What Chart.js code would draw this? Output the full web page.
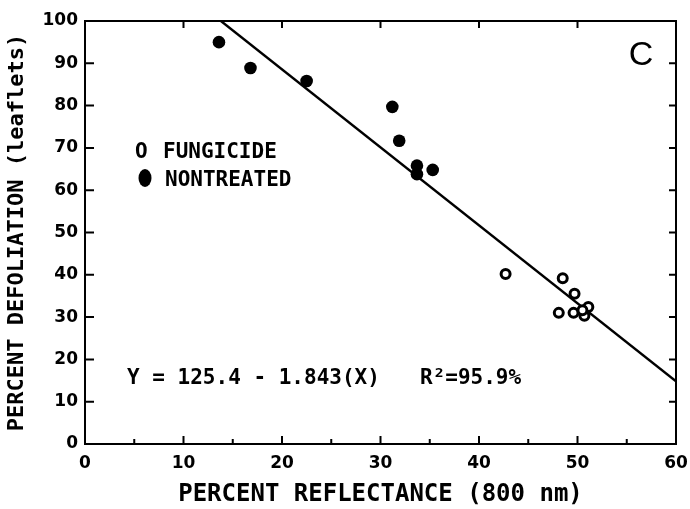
<!DOCTYPE html>
<html>
<head>
<meta charset="utf-8">
<script src="https://cdn.jsdelivr.net/npm/chart.js@4"></script>
<style>
    html, body { margin: 0; padding: 0; background: #fff; }
    #wrap { width: 690px; height: 509px; }
</style>
</head>
<body>
<div id="wrap"><canvas id="chart" width="690" height="509"></canvas></div>
<script>
// --- Data ---
const fungicideX = [42.7, 48.5, 49.7, 48.1, 49.6, 50.7, 51.1, 50.5];
const fungicideY = [40.2, 39.2, 35.5, 31.0, 31.0, 30.3, 32.4, 31.6];

const nontreatedX = [13.6, 16.8, 22.5, 31.2, 31.9, 33.7, 33.7, 35.3];
const nontreatedY = [95.0, 88.9, 85.8, 79.7, 71.7, 65.8, 63.8, 64.8];

// regression line end points (Y = 125.4 - 1.843X)
const fitX = [13.8, 60];
const fitY = [100, 14.8];

const xTicks = [0, 10, 20, 30, 40, 50, 60];
const xMinorTicks = [5, 15, 25, 35, 45, 55];
const yTicks = [0, 10, 20, 30, 40, 50, 60, 70, 80, 90, 100];

const xTitle = 'PERCENT REFLECTANCE (800 nm)';
const yTitle = 'PERCENT DEFOLIATION (leaflets)';
const legendLabels = ['FUNGICIDE', 'NONTREATED'];
const equationText = 'Y = 125.4 - 1.843(X)';
const r2Text = 'R\u00B2=95.9%';
const panelLetter = 'C';

const MONO = "'DejaVu Sans Mono', monospace";

function toPoints(xs, ys) {
    return xs.map((x, i) => ({ x: x, y: ys[i] }));
}

// Frame, inward ticks and in-plot text
const framePlugin = {
    id: 'frame',
    afterDatasetsDraw(chart) {
        const ctx = chart.ctx;
        const a = chart.chartArea;
        const sx = chart.scales.x;
        const sy = chart.scales.y;

        ctx.save();
        ctx.strokeStyle = '#000';
        ctx.lineWidth = 2;
        ctx.strokeRect(a.left, a.top, a.right - a.left, a.bottom - a.top);

        ctx.beginPath();
        xTicks.forEach(v => {
            const px = sx.getPixelForValue(v);
            ctx.moveTo(px, a.bottom); ctx.lineTo(px, a.bottom - 8);
            ctx.moveTo(px, a.top); ctx.lineTo(px, a.top + 7);
        });
        xMinorTicks.forEach(v => {
            const px = sx.getPixelForValue(v);
            ctx.moveTo(px, a.bottom); ctx.lineTo(px, a.bottom - 5);
        });
        yTicks.forEach(v => {
            const py = sy.getPixelForValue(v);
            ctx.moveTo(a.left, py); ctx.lineTo(a.left + 9, py);
            ctx.moveTo(a.right, py); ctx.lineTo(a.right - 7, py);
        });
        ctx.stroke();

        // legend
        ctx.fillStyle = '#000';
        ctx.font = 'bold 21px ' + MONO;
        ctx.textBaseline = 'alphabetic';
        ctx.textAlign = 'left';
        ctx.fillText('O', 135, 158);
        ctx.fillText(legendLabels[0], 163, 158);
        ctx.beginPath();
        ctx.ellipse(145, 178, 6.5, 9, 0, 0, Math.PI * 2);
        ctx.fill();
        ctx.fillText(legendLabels[1], 165, 186);

        // equation
        ctx.font = 'bold 21px ' + MONO;
        ctx.fillText(equationText, 127, 384);
        ctx.fillText(r2Text, 420, 384);

        // panel letter
        ctx.font = "34px 'Liberation Sans', Arial, sans-serif";
        ctx.textAlign = 'center';
        ctx.fillText(panelLetter, 641, 65);
        ctx.restore();
    }
};

new Chart(document.getElementById('chart').getContext('2d'), {
    type: 'scatter',
    data: {
        datasets: [
            {
                label: 'FUNGICIDE',
                data: toPoints(fungicideX, fungicideY),
                pointRadius: 4.5,
                pointBorderWidth: 3,
                pointBackgroundColor: '#fff',
                pointBorderColor: '#000'
            },
            {
                label: 'NONTREATED',
                data: toPoints(nontreatedX, nontreatedY),
                pointRadius: 6.3,
                pointBorderWidth: 0,
                pointBackgroundColor: '#000',
                pointBorderColor: '#000'
            },
            {
                type: 'line',
                label: 'fit',
                data: toPoints(fitX, fitY),
                borderColor: '#000',
                borderWidth: 2.4,
                pointRadius: 0,
                showLine: true,
                fill: false
            }
        ]
    },
    options: {
        responsive: false,
        animation: false,
        layout: { padding: { top: 21, right: 14, left: 0, bottom: 0 } },
        plugins: {
            legend: { display: false },
            tooltip: { enabled: false }
        },
        scales: {
            x: {
                type: 'linear',
                min: 0,
                max: 60,
                afterBuildTicks: s => { s.ticks = xTicks.map(v => ({ value: v })); },
                afterFit: s => { s.height = 65; s.paddingLeft = 0; s.paddingRight = 0; },
                grid: { display: false, drawTicks: false },
                border: { display: false },
                ticks: {
                    color: '#000',
                    padding: 9,
                    font: { family: "'DejaVu Sans'", size: 17, weight: 'bold' }
                },
                title: {
                    display: true,
                    text: xTitle,
                    color: '#000',
                    padding: { top: 5, bottom: 0 },
                    font: { family: MONO, size: 24, weight: 'bold' }
                }
            },
            y: {
                type: 'linear',
                min: 0,
                max: 100,
                afterBuildTicks: s => { s.ticks = yTicks.map(v => ({ value: v })); },
                afterFit: s => { s.width = 85; s.paddingTop = 0; s.paddingBottom = 0; },
                grid: { display: false, drawTicks: false },
                border: { display: false },
                ticks: {
                    color: '#000',
                    padding: 7,
                    font: { family: "'DejaVu Sans'", size: 17, weight: 'bold' }
                },
                title: {
                    display: true,
                    text: yTitle,
                    color: '#000',
                    padding: { top: 4, bottom: 0 },
                    font: { family: MONO, size: 22, weight: 'bold' }
                }
            }
        }
    },
    plugins: [framePlugin]
});
</script>
</body>
</html>
